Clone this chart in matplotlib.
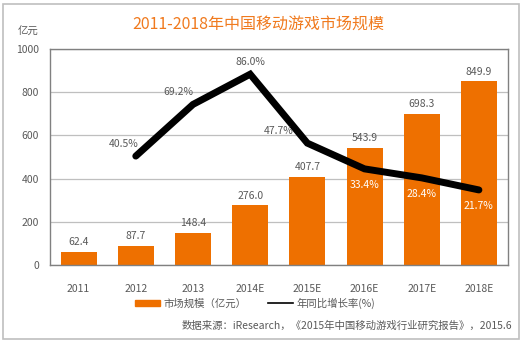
import matplotlib.pyplot as plt
from matplotlib.patches import Rectangle
from matplotlib.lines import Line2D

plt.rcParams['font.family'] = ['Noto Sans CJK SC', 'DejaVu Sans']

years = ["2011", "2012", "2013", "2014E", "2015E", "2016E", "2017E", "2018E"]
market = [62.4, 87.7, 148.4, 276.0, 407.7, 543.9, 698.3, 849.9]
growth_years = ["2012", "2013", "2014E", "2015E", "2016E", "2017E", "2018E"]
growth = [40.5, 69.2, 86.0, 47.7, 33.4, 28.4, 21.7]

orange = "#EE7000"
gray = "#595959"

W, H = 523, 343
fig = plt.figure(figsize=(W / 100, H / 100), dpi=100)

# outer frame
fig.patches.append(Rectangle((3 / W, 4 / H), 516 / W, 335 / H, transform=fig.transFigure,
                             fill=False, edgecolor="#BFBFBF", linewidth=1.2))

ax = fig.add_axes([50 / W, 1 - 265 / H, 457.5 / W, 216 / H])
x = list(range(len(years)))
ax.bar(x, market, width=0.63, color=orange, zorder=2)
ax.set_xlim(-0.5, len(years) - 0.5)
ax.set_ylim(0, 1000)
ax.set_yticks(range(0, 1001, 200))
ax.set_xticks(x)
ax.set_xticklabels(years)
ax.tick_params(length=0, labelsize=7.5, labelcolor=gray, pad=14)
ax.tick_params(axis="y", pad=8)
ax.grid(axis="y", color="#BFBFBF", linewidth=0.9, zorder=0)
for s in ax.spines.values():
    s.set_color("#808080")
    s.set_linewidth(1.0)

for xi, v in zip(x, market):
    ax.text(xi, v + 22, f"{v:.1f}", ha="center", va="bottom", fontsize=7.5, color=gray)

# growth line on hidden secondary axis
ax2 = ax.twinx()
ax2.set_ylim(-20, 100)
ax2.axis("off")
gx = [years.index(y) for y in growth_years]
ax2.plot(gx, growth, color="black", linewidth=5, solid_joinstyle="miter",
         solid_capstyle="round", zorder=3)

offsets = [(-0.22, 4, gray), (-0.25, 4, gray), (0.0, 4, gray), (-0.5, 4, gray),
           (0.0, -6, "white"), (0.0, -6, "white"), (0.0, -6, "white")]
for xi, v, (dx, dy, c) in zip(gx, growth, offsets):
    ax2.text(xi + dx, v + dy, f"{v:.1f}%", ha="center", va="bottom" if dy > 0 else "top",
             fontsize=7.5, color=c)

fig.text(258 / W, 1 - 24 / H, "2011-2018年中国移动游戏市场规模", ha="center", va="center",
         fontsize=11.5, color="#F07A1E")
fig.text(28 / W, 1 - 32 / H, "亿元", ha="center", va="center", fontsize=7.5, color=gray)

# legend
handles = [Rectangle((0, 0), 1, 1, color=orange), Line2D([0], [0], color="black", linewidth=1.2)]
fig.legend(handles, ["市场规模（亿元）", "年同比增长率(%)"], loc="center",
           bbox_to_anchor=(255 / W, 1 - 303 / H), ncol=2, frameon=False, fontsize=7.5,
           labelcolor=gray, handlelength=2.4, handleheight=0.5, handletextpad=0.4,
           columnspacing=2.0)

fig.text(512 / W, 1 - 326 / H, "数据来源：iResearch，《2015年中国移动游戏行业研究报告》，2015.6",
         ha="right", va="center", fontsize=7.5, color=gray)

fig.savefig("out.png", dpi=100)
